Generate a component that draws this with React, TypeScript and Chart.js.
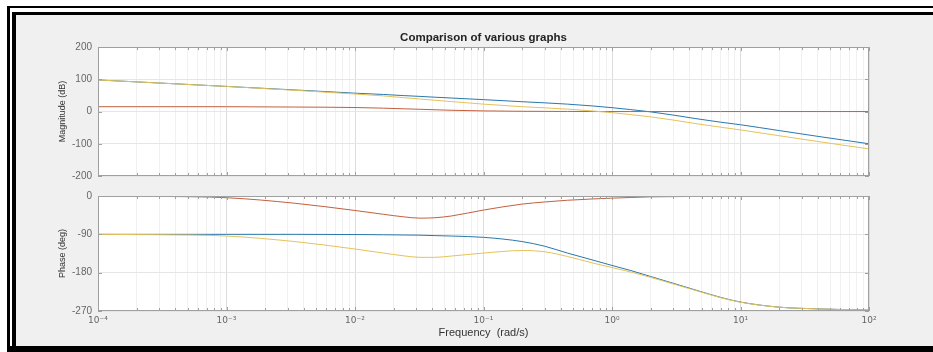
import React, { useEffect, useRef } from "react";
import { Chart, registerables } from "chart.js";

Chart.register(...registerables);

// ---------- data ----------
const FREQ = [1e-4, 3e-4, 1e-3, 0.0034, 0.01, 0.0167, 0.024, 0.032, 0.042, 0.056, 0.1, 0.2, 0.3, 0.45, 0.7, 1, 1.4, 2, 3, 4.5, 7, 10, 20, 40, 100];

const MAG_BLUE = [98, 88.5, 78, 67, 57, 53, 49.5, 47, 44.5, 42, 37, 30.5, 27, 23, 17.5, 12, 6, -1, -11, -22, -33, -41, -59, -77, -100];
const MAG_RED = [15, 15, 15, 14, 12.5, 10.5, 8.5, 7, 5.5, 4, 2, 0.8, 0.5, 0.3, 0.1, 0, 0, 0, 0, 0, 0, 0, 0, 0, 0];
const MAG_YELLOW = [98, 88.5, 78, 66, 54.5, 48.5, 43, 39, 35, 31, 23, 15, 11.5, 7.5, 2, -3.5, -9.5, -16.5, -26.5, -37.5, -48.5, -57, -75, -93, -116];

const PHASE_BLUE = [-90, -90, -90, -90, -90.5, -91, -91.5, -92, -93, -94, -97, -107, -118, -134, -150, -163, -175, -189, -205, -221, -238, -249, -261, -265, -268];
const PHASE_RED = [0, -1, -4, -17, -34, -43, -49, -52, -51, -47, -33, -19, -14, -10, -7, -5, -3.5, -2, -1.5, -1, -0.6, -0.4, -0.2, -0.1, 0];
const PHASE_YELLOW = [-90, -91, -94, -107, -124.5, -134, -140.5, -144, -144, -141, -134, -128, -131, -142, -157, -168, -178.5, -191, -206.5, -222, -238.6, -249.4, -261, -265, -268];

const DECADES = [1e-4, 1e-3, 1e-2, 1e-1, 1, 10, 100];
const X_TICK_LABELS = ["10\u207B\u2074", "10\u207B\u00B3", "10\u207B\u00B2", "10\u207B\u00B9", "10\u2070", "10\u00B9", "10\u00B2"];
const MINOR_MULT = [1, 2, 3, 4, 5, 6, 7, 8, 9];
const MAG_TICKS = [-200, -100, 0, 100, 200];
const PHASE_TICKS = [-270, -180, -90, 0];

const TITLE = "Comparison of various graphs";
const MAG_LABEL = "Magnitude (dB)";
const PHASE_LABEL = "Phase (deg)";
const FREQ_LABEL = "Frequency  (rad/s)";

// ---------- styles ----------
const FONT = "'Liberation Sans', Arial, Helvetica, sans-serif";
const SUP_FONT = "'DejaVu Sans', 'Liberation Sans', sans-serif";
const BLUE = "#2a78ac";
const RED = "#c2603e";
const YELLOW = "#e6c25a";
const TICK_COLOR = "#666666";
const MAJOR_GRID = "#dcdcdc";
const MINOR_GRID = "#f1f1f1";
const H_GRID = "#e6e6e6";
const BOX_COLOR = "#a0a0a0";

const isDecade = (v: number) => DECADES.some((d) => Math.abs(v / d - 1) < 1e-6);

const xTickValues = () => {
  const out: number[] = [];
  DECADES.forEach((d, i) => {
    if (i === DECADES.length - 1) out.push(d);
    else MINOR_MULT.forEach((m) => out.push(d * m));
  });
  return out;
};

const axesBox = {
  id: "axesBox",
  beforeDraw(chart: any) {
    const { ctx, chartArea: a } = chart;
    ctx.save();
    ctx.fillStyle = "#ffffff";
    ctx.fillRect(a.left, a.top, a.right - a.left, a.bottom - a.top);
    ctx.restore();
  },
  afterDatasetsDraw(chart: any) {
    const { ctx, chartArea: a, scales } = chart;
    ctx.save();
    ctx.strokeStyle = BOX_COLOR;
    ctx.lineWidth = 1;
    ctx.beginPath();
    const xs = scales.x;
    xs.ticks.forEach((t: any) => {
      const px = Math.round(xs.getPixelForValue(t.value)) + 0.5;
      const len = isDecade(t.value) ? 4 : 3;
      ctx.moveTo(px, a.top);
      ctx.lineTo(px, a.top + len);
      ctx.moveTo(px, a.bottom);
      ctx.lineTo(px, a.bottom - len);
    });
    const ys = scales.y;
    ys.ticks.forEach((t: any) => {
      const py = Math.round(ys.getPixelForValue(t.value)) + 0.5;
      ctx.moveTo(a.left, py);
      ctx.lineTo(a.left + 4, py);
      ctx.moveTo(a.right, py);
      ctx.lineTo(a.right - 4, py);
    });
    ctx.stroke();
    ctx.strokeRect(Math.round(a.left) + 0.5, Math.round(a.top) + 0.5, Math.round(a.right - a.left) - 1, Math.round(a.bottom - a.top) - 1);
    ctx.restore();
  },
};

type Props = {
  kind: "mag" | "phase";
  top: number;
  height: number;
};

function BodeAxes({ kind, top, height }: Props) {
  const ref = useRef<HTMLCanvasElement | null>(null);

  useEffect(() => {
    if (!ref.current) return;
    const isMag = kind === "mag";
    const blue = isMag ? MAG_BLUE : PHASE_BLUE;
    const red = isMag ? MAG_RED : PHASE_RED;
    const yellow = isMag ? MAG_YELLOW : PHASE_YELLOW;
    const yTicks = isMag ? MAG_TICKS : PHASE_TICKS;
    const mk = (vals: number[]) => FREQ.map((f, i) => ({ x: f, y: vals[i] }));
    const ds = (label: string, vals: number[], color: string, order: number) => ({
      label,
      data: mk(vals),
      borderColor: color,
      backgroundColor: color,
      borderWidth: 1,
      pointRadius: 0,
      fill: false,
      cubicInterpolationMode: "monotone" as const,
      order,
    });

    const chart = new Chart(ref.current, {
      type: "line",
      data: {
        datasets: [
          ds("G", blue, BLUE, 2),
          ds("C", red, RED, 1),
          ds("GC", yellow, YELLOW, 0),
        ],
      },
      options: {
        responsive: false,
        animation: false,
        events: [],
        layout: {
          padding: isMag
            ? { left: 50, right: 64, top: 24.5, bottom: 6 }
            : { left: 50, right: 64, top: 7, bottom: 6 },
        },
        plugins: {
          legend: { display: false },
          tooltip: { enabled: false },
          title: {
            display: isMag,
            text: TITLE,
            fullSize: false,
            color: "#222222",
            font: { family: FONT, size: 11.5, weight: "bold" },
            padding: { top: 6.4, bottom: 2.4 },
          },
        },
        scales: {
          x: {
            type: "logarithmic",
            min: 1e-4,
            max: 100,
            afterBuildTicks: (s: any) => {
              s.ticks = xTickValues().map((v) => ({ value: v }));
            },
            afterFit: (s: any) => {
              s.height = isMag ? 0 : 35;
            },
            ticks: {
              display: !isMag,
              autoSkip: false,
              maxRotation: 0,
              minRotation: 0,
              padding: 4,
              color: TICK_COLOR,
              font: { family: SUP_FONT, size: 9 },
              callback: (v: any) => {
                const i = DECADES.findIndex((d) => Math.abs(Number(v) / d - 1) < 1e-6);
                return i >= 0 ? X_TICK_LABELS[i] : "";
              },
            },
            grid: {
              drawTicks: false,
              lineWidth: 1,
              color: (c: any) => (c.tick && isDecade(c.tick.value) ? MAJOR_GRID : MINOR_GRID),
            },
            border: { display: false },
            title: {
              display: !isMag,
              text: FREQ_LABEL,
              color: "#333333",
              font: { family: FONT, size: 11 },
              padding: { top: 0, bottom: 6.4 },
            },
          },
          y: {
            type: "linear",
            min: yTicks[0],
            max: yTicks[yTicks.length - 1],
            afterBuildTicks: (s: any) => {
              s.ticks = yTicks.map((v) => ({ value: v }));
            },
            afterFit: (s: any) => {
              s.width = 48;
            },
            ticks: {
              padding: 6,
              color: TICK_COLOR,
              font: { family: FONT, size: 10 },
            },
            grid: { drawTicks: false, color: H_GRID, lineWidth: 1 },
            border: { display: false },
            title: {
              display: true,
              text: isMag ? MAG_LABEL : PHASE_LABEL,
              color: "#333333",
              font: { family: FONT, size: 9 },
              padding: { top: 7, bottom: 0 },
            },
          },
        },
      },
      plugins: [axesBox],
    } as any);

    return () => chart.destroy();
  }, [kind]);

  return (
    <canvas
      ref={ref}
      width={933}
      height={height}
      style={{ position: "absolute", left: 0, top, width: 933, height }}
    />
  );
}

export default function App() {
  const abs = (l: number, t: number, w: number, h: number, bg: string) => (
    <div style={{ position: "absolute", left: l, top: t, width: w, height: h, background: bg }} />
  );
  return (
    <div
      style={{
        position: "absolute",
        left: 0,
        top: 0,
        width: 933,
        height: 352,
        background: "#ffffff",
        overflow: "hidden",
      }}
    >
      {abs(7, 6, 926, 2.3, "#000")}
      {abs(7, 6, 2.5, 346, "#000")}
      {abs(12, 12, 921, 3, "#000")}
      {abs(12, 12, 3.5, 340, "#000")}
      {abs(15.5, 15, 918, 331, "#f0f0f0")}
      {abs(7, 346, 926, 6, "#000")}
      <BodeAxes kind="mag" top={0} height={188} />
      <BodeAxes kind="phase" top={184} height={168} />
    </div>
  );
}
